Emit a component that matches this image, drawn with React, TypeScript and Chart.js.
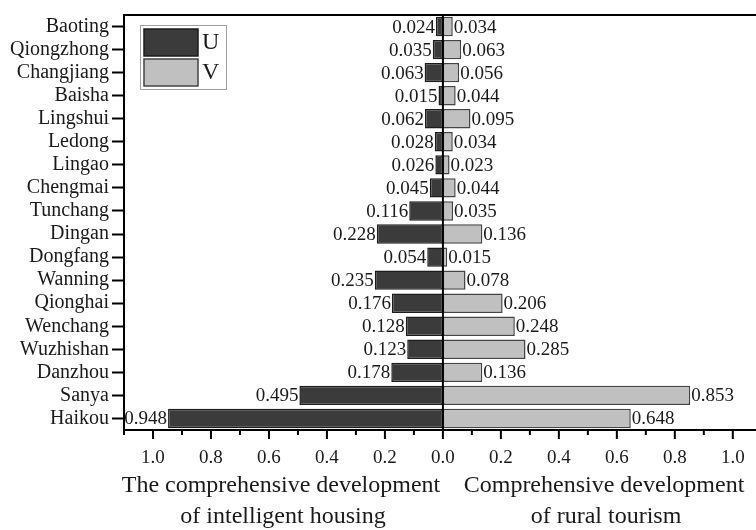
import React, { useEffect, useRef } from "react";
import { Chart, registerables } from "chart.js";

Chart.register(...registerables);

const categories = [
  "Baoting", "Qiongzhong", "Changjiang", "Baisha", "Lingshui", "Ledong", "Lingao",
  "Chengmai", "Tunchang", "Dingan", "Dongfang", "Wanning", "Qionghai", "Wenchang",
  "Wuzhishan", "Danzhou", "Sanya", "Haikou",
];
const uValues = [
  0.024, 0.035, 0.063, 0.015, 0.062, 0.028, 0.026, 0.045, 0.116, 0.228, 0.054,
  0.235, 0.176, 0.128, 0.123, 0.178, 0.495, 0.948,
];
const vValues = [
  0.034, 0.063, 0.056, 0.044, 0.095, 0.034, 0.023, 0.044, 0.035, 0.136, 0.015,
  0.078, 0.206, 0.248, 0.285, 0.136, 0.853, 0.648,
];
const majorTicks = [-1.0, -0.8, -0.6, -0.4, -0.2, 0, 0.2, 0.4, 0.6, 0.8, 1.0];
const minorTicks = [-1.1, -0.9, -0.7, -0.5, -0.3, -0.1, 0.1, 0.3, 0.5, 0.7, 0.9];
const seriesNames = ["U", "V"];
const leftTitle = ["The comprehensive development", "of intelligent housing"];
const rightTitle = ["Comprehensive development", "of rural tourism"];

const SERIF = "'Liberation Serif', 'Times New Roman', serif";
const U_FILL = "#3b3b3b";
const U_BORDER = "#1c1c1c";
const V_FILL = "#c0c0c0";
const V_BORDER = "#444444";

const decorPlugin = {
  id: "decor",
  afterDatasetsDraw(chart: any) {
    const { ctx, chartArea, scales } = chart;
    const x = scales.x;
    ctx.save();
    const x0 = x.getPixelForValue(0);
    ctx.strokeStyle = "#000";
    ctx.lineWidth = 2;
    ctx.beginPath();
    ctx.moveTo(x0, chartArea.top);
    ctx.lineTo(x0, chartArea.bottom);
    ctx.stroke();
    ctx.font = `19px ${SERIF}`;
    ctx.fillStyle = "#1a1a1a";
    ctx.textBaseline = "middle";
    chart.data.datasets.forEach((ds: any, di: number) => {
      const meta = chart.getDatasetMeta(di);
      meta.data.forEach((el: any, i: number) => {
        const v = di === 0 ? uValues[i] : vValues[i];
        const txt = v.toFixed(3);
        if (di === 0) {
          ctx.textAlign = "right";
          ctx.fillText(txt, el.x - 1, el.y + 1);
        } else {
          ctx.textAlign = "left";
          ctx.fillText(txt, el.x + 1, el.y + 1);
        }
      });
    });
    ctx.restore();
  },
  afterDraw(chart: any) {
    const { ctx, chartArea, scales } = chart;
    const x = scales.x;
    ctx.save();
    ctx.strokeStyle = "#000";
    ctx.lineWidth = 2;
    ctx.beginPath();
    ctx.moveTo(chartArea.left - 1, chartArea.top);
    ctx.lineTo(chartArea.right, chartArea.top);
    ctx.stroke();
    majorTicks.forEach((t) => {
      const px = x.getPixelForValue(t);
      ctx.beginPath();
      ctx.moveTo(px, chartArea.bottom);
      ctx.lineTo(px, chartArea.bottom + 9);
      ctx.stroke();
    });
    minorTicks.forEach((t) => {
      const px = x.getPixelForValue(t);
      ctx.beginPath();
      ctx.moveTo(px, chartArea.bottom);
      ctx.lineTo(px, chartArea.bottom + 5);
      ctx.stroke();
    });
    ctx.font = `24px ${SERIF}`;
    ctx.fillStyle = "#1a1a1a";
    ctx.textAlign = "center";
    ctx.textBaseline = "alphabetic";
    ctx.fillText(leftTitle[0], 281, 492);
    ctx.fillText(leftTitle[1], 283, 523);
    ctx.fillText(rightTitle[0], 604, 492);
    ctx.fillText(rightTitle[1], 606, 523);
    const lx = chartArea.left + 16;
    const ly = chartArea.top + 10;
    ctx.fillStyle = "#fff";
    ctx.fillRect(lx, ly, 86, 64);
    ctx.strokeStyle = "#a0a0a0";
    ctx.lineWidth = 1;
    ctx.strokeRect(lx + 0.5, ly + 0.5, 86, 64);
    const sw = [
      { fill: U_FILL, border: U_BORDER },
      { fill: V_FILL, border: V_BORDER },
    ];
    sw.forEach((s, i) => {
      const sy = ly + 4 + i * 30;
      ctx.fillStyle = s.fill;
      ctx.fillRect(lx + 4, sy, 54, 27);
      ctx.strokeStyle = s.border;
      ctx.lineWidth = 1.5;
      ctx.strokeRect(lx + 4, sy, 54, 27);
      ctx.fillStyle = "#1a1a1a";
      ctx.font = `24px ${SERIF}`;
      ctx.textAlign = "left";
      ctx.textBaseline = "middle";
      ctx.fillText(seriesNames[i], lx + 62, sy + 14);
    });
    ctx.restore();
  },
};

export default function App() {
  const ref = useRef<HTMLCanvasElement | null>(null);
  useEffect(() => {
    if (!ref.current) return;
    const chart = new Chart(ref.current, {
      type: "bar",
      data: {
        labels: categories,
        datasets: [
          {
            label: seriesNames[0],
            data: uValues.map((v) => -v),
            backgroundColor: U_FILL,
            borderColor: U_BORDER,
            borderWidth: 1.5,
            borderSkipped: false,
            barPercentage: 0.84,
            categoryPercentage: 1,
          },
          {
            label: seriesNames[1],
            data: vValues,
            backgroundColor: V_FILL,
            borderColor: V_BORDER,
            borderWidth: 1.5,
            borderSkipped: false,
            barPercentage: 0.84,
            categoryPercentage: 1,
          },
        ],
      },
      options: {
        indexAxis: "y",
        responsive: false,
        animation: false,
        devicePixelRatio: 1,
        layout: { padding: { top: 6, left: 0, right: 0, bottom: 0 } },
        plugins: { legend: { display: false }, tooltip: { enabled: false } },
        scales: {
          x: {
            stacked: true,
            min: -1.1,
            max: 1.08,
            grid: { display: false },
            border: { display: true, color: "#000", width: 2 },
            afterBuildTicks: (axis: any) => {
              axis.ticks = majorTicks.map((v) => ({ value: v }));
            },
            afterFit: (axis: any) => {
              axis.height = 100;
            },
            ticks: {
              autoSkip: false,
              maxRotation: 0,
              padding: 9,
              color: "#1a1a1a",
              font: { family: SERIF, size: 19 },
              callback: (v: any) => Math.abs(Number(v)).toFixed(1),
            },
          },
          y: {
            stacked: true,
            grid: {
              display: true,
              offset: false,
              drawOnChartArea: false,
              drawTicks: true,
              tickLength: 12,
              tickColor: "#000",
              tickWidth: 2,
            },
            border: { display: true, color: "#000", width: 2 },
            afterFit: (axis: any) => {
              axis.width = 124;
            },
            ticks: {
              autoSkip: false,
              padding: 3,
              color: "#1a1a1a",
              font: { family: SERIF, size: 20 },
            },
          },
        },
      },
      plugins: [decorPlugin],
    } as any);
    return () => chart.destroy();
  }, []);
  return (
    <div style={{ position: "fixed", left: 0, top: 0, width: 756, height: 530, background: "#fff" }}>
      <canvas ref={ref} width={756} height={530} />
    </div>
  );
}
